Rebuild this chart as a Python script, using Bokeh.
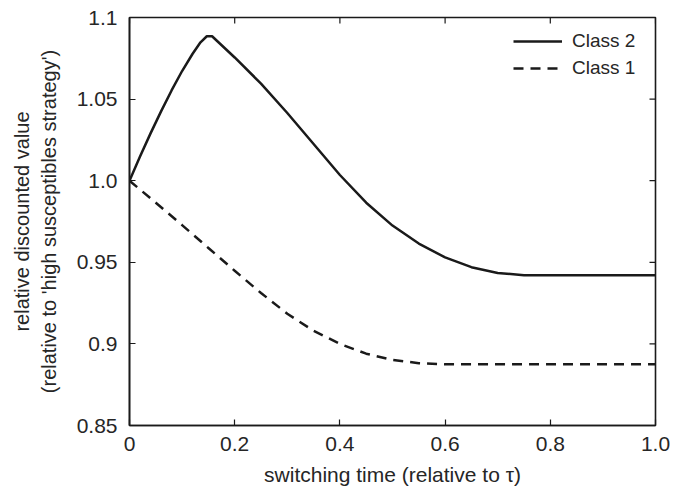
import math
from bokeh.plotting import figure
from bokeh.models import (ColumnDataSource, FixedTicker, Range1d,
                          Legend, LegendItem)
from bokeh.embed import file_html
from bokeh.resources import INLINE

# ---- data ----
class2_x = [0.0, 0.02, 0.04, 0.06, 0.08, 0.10, 0.12, 0.135, 0.147, 0.157,
            0.20, 0.25, 0.30, 0.35, 0.40, 0.45, 0.50, 0.55, 0.60, 0.65,
            0.70, 0.75, 0.80, 1.0]
class2_y = [1.0, 1.0148, 1.029, 1.0425, 1.0553, 1.0672, 1.0778, 1.0848, 1.0885, 1.0885,
            1.0755, 1.0595, 1.0415, 1.0225, 1.0035, 0.9865, 0.9725, 0.9615, 0.953, 0.947,
            0.9435, 0.942, 0.942, 0.942]

class1_x = [0.0, 0.05, 0.10, 0.15, 0.20, 0.25, 0.30, 0.35, 0.40, 0.45,
            0.50, 0.55, 0.60, 1.0]
class1_y = [1.0, 0.9865, 0.9728, 0.9588, 0.9448, 0.9312, 0.9185, 0.908, 0.900, 0.894,
            0.8902, 0.8882, 0.8875, 0.8875]

x_min, x_max = 0.0, 1.0
y_min, y_max = 0.85, 1.1
x_ticks = [0, 0.2, 0.4, 0.6, 0.8, 1.0]
x_tick_labels = ["0", "0.2", "0.4", "0.6", "0.8", "1.0"]
y_ticks = [0.85, 0.9, 0.95, 1.0, 1.05, 1.1]
y_tick_labels = ["0.85", "0.9", "0.95", "1.0", "1.05", "1.1"]

x_label = "switching time (relative to \u03c4)"
y_label = "relative discounted value\n(relative to 'high susceptibles strategy')"
series_names = ["Class 2", "Class 1"]

FONT = "Liberation Sans"
INK = "#1a1a1a"
TXT = "#262626"

p = figure(width=686, height=493, output_backend="svg", toolbar_location=None,
           x_range=Range1d(x_min, x_max), y_range=Range1d(y_min, y_max),
           min_border_left=129, min_border_right=31, min_border_top=17,
           min_border_bottom=68)

p.xgrid.visible = False
p.ygrid.visible = False
p.outline_line_color = INK
p.outline_line_width = 1.6
p.background_fill_color = "white"
p.border_fill_color = "white"

def style_axis(ax, ticks, labels):
    ax.ticker = FixedTicker(ticks=ticks)
    ax.major_label_overrides = {t: l for t, l in zip(ticks, labels)}
    ax.major_tick_in = 6
    ax.major_tick_out = 0
    ax.minor_tick_in = 0
    ax.minor_tick_out = 0
    ax.major_tick_line_color = INK
    ax.major_tick_line_width = 1.2
    ax.axis_line_color = INK
    ax.axis_line_width = 1.6
    ax.major_label_text_font = FONT
    ax.major_label_text_color = TXT
    ax.major_label_text_font_size = "21px"
    ax.axis_label_text_font = FONT
    ax.axis_label_text_font_style = "normal"
    ax.axis_label_text_color = TXT

xa = p.xaxis[0]
style_axis(xa, x_ticks, x_tick_labels)
xa.major_label_standoff = 11
xa.axis_label = x_label
xa.axis_label_text_font_size = "21px"
xa.axis_label_standoff = 9

ya = p.yaxis[0]
style_axis(ya, y_ticks, y_tick_labels)
ya.major_label_standoff = 12
ya.axis_label = y_label
ya.axis_label_text_font_size = "20px"
ya.axis_label_standoff = 14

# mirrored inner ticks on the top and right edges (clipped to the frame)
p.scatter(x=x_ticks, y=[y_max] * len(x_ticks), marker="dash", size=12,
          angle=math.pi / 2, line_color=INK, line_width=1.2)
p.scatter(x=[x_max] * len(y_ticks), y=y_ticks, marker="dash", size=12,
          line_color=INK, line_width=1.2)

src2 = ColumnDataSource(dict(x=class2_x, y=class2_y))
src1 = ColumnDataSource(dict(x=class1_x, y=class1_y))
r2 = p.line("x", "y", source=src2, line_color=INK, line_width=2.5,
            line_join="round")
r1 = p.line("x", "y", source=src1, line_color=INK, line_width=2.5,
            line_dash="10 7")

legend = Legend(items=[LegendItem(label=series_names[0], renderers=[r2]),
                       LegendItem(label=series_names[1], renderers=[r1])],
                location=(384, 345), padding=0, margin=0, spacing=3,
                glyph_width=49, glyph_height=24, label_height=24,
                label_standoff=10, label_text_font=FONT,
                label_text_font_size="19px", label_text_color=TXT,
                border_line_color=None, background_fill_alpha=0)
p.add_layout(legend)

open("out.html", "w").write(file_html(p, INLINE))
